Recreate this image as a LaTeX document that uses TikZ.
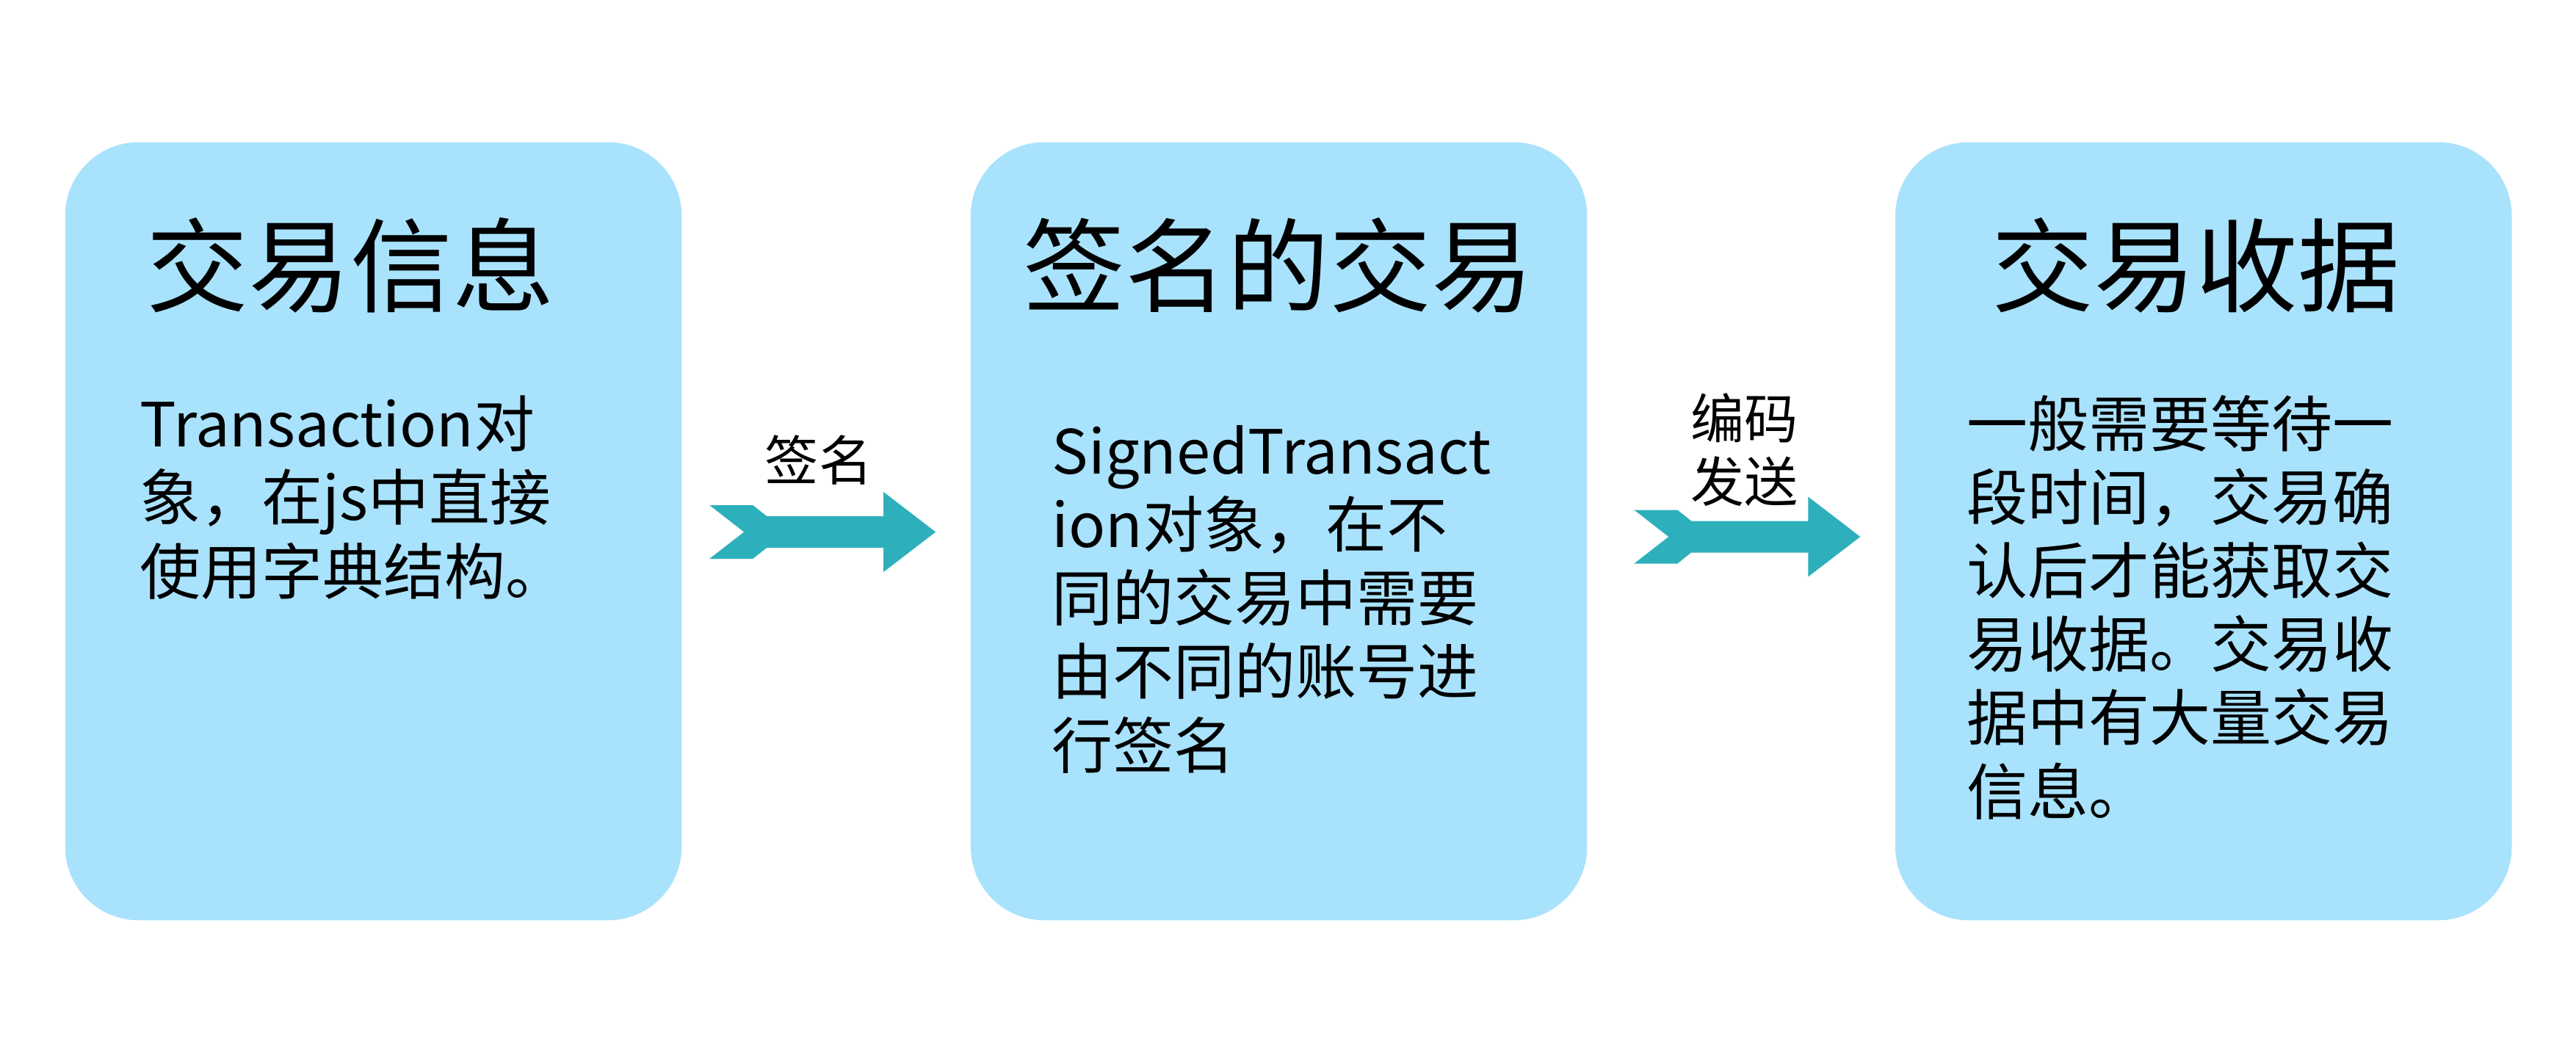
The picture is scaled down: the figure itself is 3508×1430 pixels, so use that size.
\documentclass[tikz,border=0pt]{standalone}
\usepackage{fontspec}
\setmainfont{Noto Sans CJK SC}
\usetikzlibrary{positioning}
\definecolor{cardblue}{RGB}{169,226,252}
\definecolor{arrowteal}{RGB}{45,176,187}
\tikzset{
  card/.style={rounded corners=1cm, fill=cardblue, minimum width=8.39cm, minimum height=10.59cm, inner sep=0pt},
  heading/.style={anchor=base west, inner sep=0pt, font=\fontsize{39.5}{47}\selectfont},
  bodytext/.style={anchor=base west, align=left, inner sep=0pt, font=\fontsize{23.6}{28.45}\selectfont},
  steplabel/.style={align=center, inner sep=0pt, font=\fontsize{20.8}{24.5}\selectfont},
  flowarrow/.pic={
    \fill[arrowteal] (0,0) -- (-71,54.5) -- (-71,21.5) -- (-230,21.5) -- (-249,36.5) -- (-308,36.5)
      -- (-261,0) -- (-308,-36.5) -- (-249,-36.5) -- (-230,-21.5) -- (-71,-21.5) -- (-71,-54.5) -- cycle;
  }
}
\begin{document}
\begin{tikzpicture}[x=0.01cm,y=-0.01cm]
    \useasboundingbox (0,0) rectangle (3508,1430);

    % three cards
    \node [card] (info) at (508.5,723.5) {};
    \node [card, right=3.92cm of info] (signed) {};
    \node [card, right=4.18cm of signed] (receipt) {};

    % headings
    \node [heading] (infotitle) at (199,414) {交易信息};
    \node [heading] (signedtitle) at (1393,414) {签名的交易};
    \node [heading] (receipttitle) at (2712,414) {交易收据};

    % card texts (base = last line)
    \node [bodytext] (infotext) at (190,809) {Transaction对\\象，在js中直接\\使用字典结构。};
    \node [bodytext] (signedtext) at (1432,1046) {SignedTransact\\ion对象，在不\\同的交易中需要\\由不同的账号进\\行签名};
    \node [bodytext] (receipttext) at (2678,1109) {一般需要等待一\\段时间，交易确\\认后才能获取交\\易收据。交易收\\据中有大量交易\\信息。};

    % arrows between the cards
    \path (signed.west) ++(-47,1) pic {flowarrow};
    \path (receipt.west) ++(-47,7.5) pic {flowarrow};

    \node [steplabel] (signlabel) at (1115,626.5) {签名};
    \node [steplabel] (sendlabel) at (2375.5,612.5) {编码\\发送};
\end{tikzpicture}
\end{document}
